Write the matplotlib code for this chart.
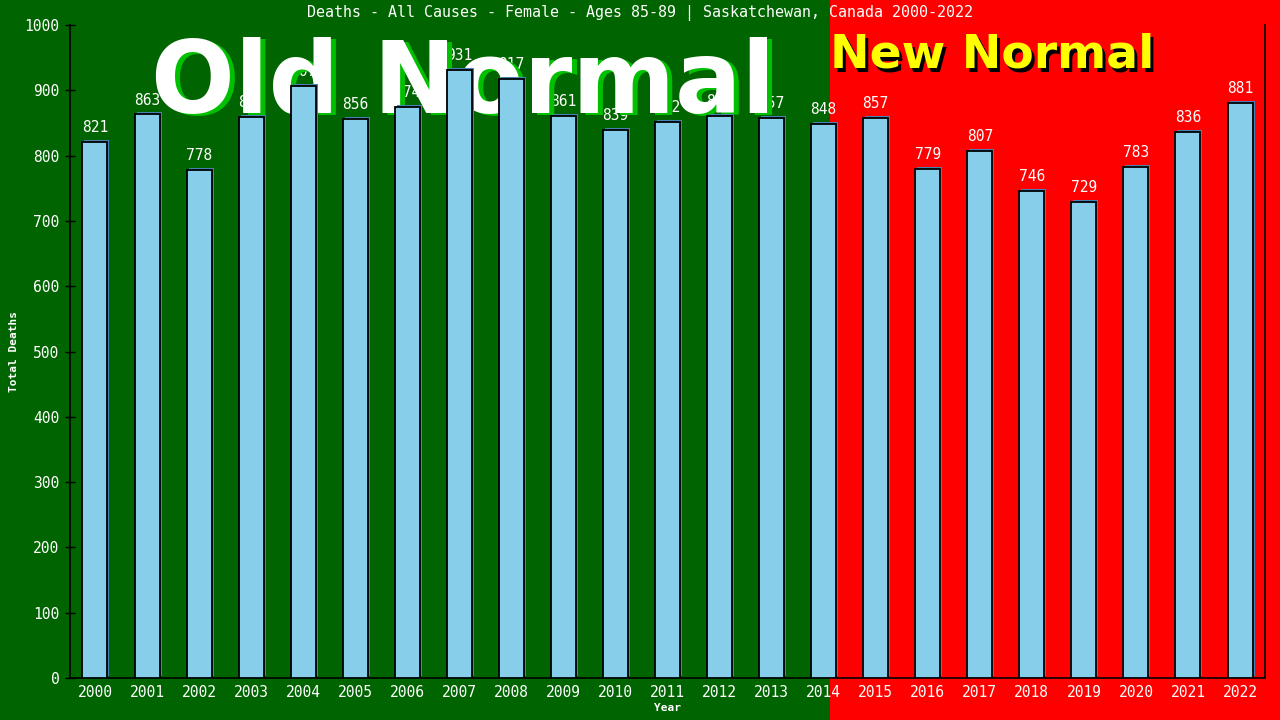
import matplotlib
matplotlib.use("Agg")
import matplotlib.pyplot as plt
import matplotlib.transforms as mtransforms
from matplotlib.patches import Rectangle

years = [str(y) for y in range(2000, 2023)]
deaths = [821, 863, 778, 859, 907, 856, 874, 931, 917, 861, 839, 852,
          861, 857, 848, 857, 779, 807, 746, 729, 783, 836, 881]
yticks = list(range(0, 1001, 100))
title = "Deaths - All Causes - Female - Ages 85-89 | Saskatchewan, Canada 2000-2022"

W, H = 1280, 720
fig = plt.figure(figsize=(12.8, 7.2), dpi=100)
fig.patch.set_facecolor("#006400")
split = 830 / W
fig.patches.append(Rectangle((0, 0), split, 1, transform=fig.transFigure,
                             facecolor="#006400", edgecolor="none", zorder=-10))
fig.patches.append(Rectangle((split, 0), 1 - split, 1, transform=fig.transFigure,
                             facecolor="#FF0000", edgecolor="none", zorder=-10))

left, right, bottom, top = 70, 1265, 678, 25
ax = fig.add_axes([left / W, (H - bottom) / H, (right - left) / W, (bottom - top) / H])
ax.set_facecolor("none")

x = list(range(len(years)))
shadow_tr = ax.transData + mtransforms.ScaledTranslation(2 / 100, 2 / 100, fig.dpi_scale_trans)
shadow = ax.bar(x, deaths, width=0.48, color="#4682B4", edgecolor="none", zorder=3)
for p in shadow:
    p.set_transform(shadow_tr)
ax.bar(x, deaths, width=0.48, color="#87CEEB", edgecolor="black", linewidth=1.3, zorder=4)

for xi, v in zip(x, deaths):
    ax.annotate(str(v), (xi, v), xytext=(0, 5), textcoords="offset points",
                ha="center", va="bottom", color="white", fontsize=10.5,
                family="DejaVu Sans Mono", zorder=1)

ax.set_xlim(-0.48, len(years) - 0.52)
ax.set_ylim(0, 1000)
ax.set_yticks(yticks)
ax.set_xticks(x)
ax.set_xticklabels(years)
ax.tick_params(axis="y", direction="inout", length=7, width=1, color="black",
               labelcolor="white", labelsize=10.5, pad=4)
ax.tick_params(axis="x", length=0, labelcolor="white", labelsize=10.5, pad=5)
for lab in ax.get_xticklabels() + ax.get_yticklabels():
    lab.set_family("DejaVu Sans Mono")
for s in ["left", "bottom", "right"]:
    ax.spines[s].set_color("black")
    ax.spines[s].set_linewidth(1.2)
ax.spines["top"].set_visible(False)

ax.set_ylabel("Total Deaths", color="white", fontsize=8, family="DejaVu Sans Mono",
              fontweight="bold")
ax.yaxis.set_label_coords(-(left - 19) / (right - left), 0.5)
ax.set_xlabel("Year", color="white", fontsize=8, family="DejaVu Sans Mono",
              fontweight="bold")
ax.xaxis.set_label_coords(0.5, -(703 - bottom) / (bottom - top))

fig.text(0.5, 1 - 13 / H, title, ha="center", va="center", color="white",
         fontsize=10.8, family="DejaVu Sans Mono")

# Big overlay texts
ax.text(151 / W + 5 / W, 1 - 112 / H - 2 / H, "Old Normal", transform=fig.transFigure,
        ha="left", va="baseline", fontsize=71, fontweight="bold", color="#00C000",
        family="DejaVu Sans", zorder=2)
ax.text(151 / W, 1 - 112 / H, "Old Normal", transform=fig.transFigure,
        ha="left", va="baseline", fontsize=71, fontweight="bold", color="white",
        family="DejaVu Sans", zorder=2.1)
ax.text(830 / W + 3 / W, 1 - 68 / H - 3 / H, "New Normal", transform=fig.transFigure,
        ha="left", va="baseline", fontsize=34, fontweight="bold", color="black",
        family="DejaVu Sans", zorder=2)
ax.text(830 / W, 1 - 68 / H, "New Normal", transform=fig.transFigure,
        ha="left", va="baseline", fontsize=34, fontweight="bold", color="#FFFF00",
        family="DejaVu Sans", zorder=2.1)

fig.savefig("out.png", dpi=100, facecolor=fig.get_facecolor())
